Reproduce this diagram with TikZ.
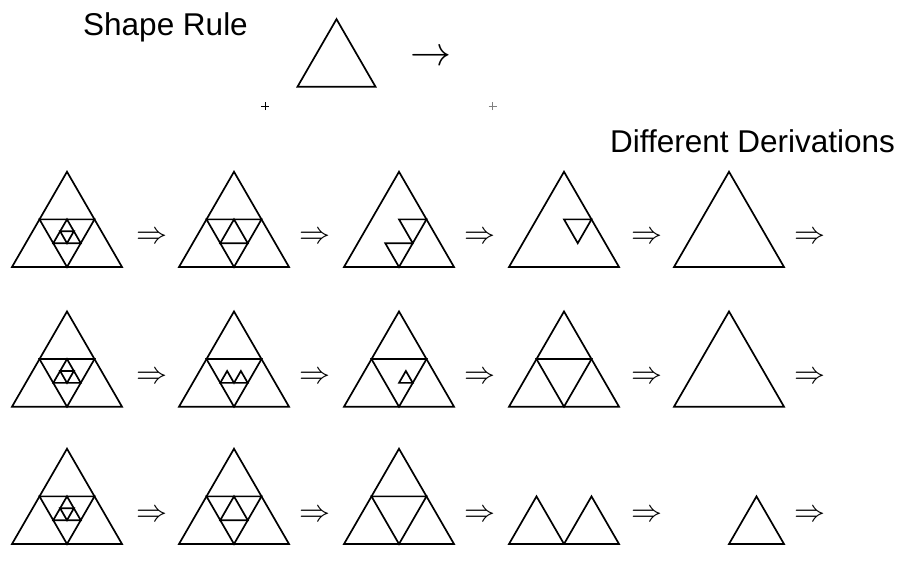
\documentclass[tikz,border=0pt]{standalone}
\usepackage{graphicx}
\usepackage{fontspec}
\setmainfont{Liberation Sans}
\tikzset{
  tri/.style={line width=1.7pt, line join=miter},
  dbl/.style={inner sep=0pt},
  lbl/.style={anchor=base west, font=\fontsize{31.5}{36}\selectfont, inner sep=0pt},
  plusmark/.style={line width=0.9pt},
}
\newcommand{\TOut}{\draw[tri] (0,0)--(1,0)--(0.5,0.866)--cycle;}
\newcommand{\TLa}{\draw[tri] (0.25,0.433)--(0.75,0.433)--(0.5,0)--cycle;}
\newcommand{\TLb}{\draw[tri] (0.5,0.433)--(0.375,0.2165)--(0.625,0.2165)--cycle;}
\newcommand{\TLc}{\draw[tri] (0.4375,0.32475)--(0.5625,0.32475)--(0.5,0.2165)--cycle;}
\newcommand{\Tri}[3]{\begin{scope}[shift={(#1,#2)},x=110pt,y=110pt]#3\end{scope}}
\newcommand{\DblArr}{\resizebox{31pt}{!}{$\Rightarrow$}}
\begin{document}
\begin{tikzpicture}[x=1pt,y=-1pt]
\useasboundingbox (0,0) rectangle (899,560);
% header
\node[lbl] (title) at (83,35) {Shape Rule};
\node[lbl] (deriv) at (610,152) {Different Derivations};
\begin{scope}[shift={(297.5,86.7)},x=78pt,y=78pt]
  \draw[tri] (0,0)--(1,0)--(0.5,0.866)--cycle;
\end{scope}
\node[inner sep=0pt] (rulearrow) at (430.5,58.3) {\resizebox{41pt}{!}{$\rightarrow$}};
\coordinate (p1) at (265,106);
\coordinate (p2) at (492.7,106);
\draw[plusmark] ([xshift=-4pt]p1) -- ([xshift=4pt]p1) ([yshift=-4pt]p1) -- ([yshift=4pt]p1);
\draw[plusmark, gray] ([xshift=-4pt]p2) -- ([xshift=4pt]p2) ([yshift=-4pt]p2) -- ([yshift=4pt]p2);
% row 1
\Tri{12}{267}{\TOut\TLa\TLb\TLc}
\Tri{179}{267}{\TOut\TLa\TLb}
\Tri{344}{267}{\TOut
  \draw[tri] (0.5,0.433)--(0.75,0.433)--(0.625,0.2165)--cycle;
  \draw[tri] (0.375,0.2165)--(0.625,0.2165)--(0.5,0)--cycle;}
\Tri{509}{267}{\TOut
  \draw[tri] (0.5,0.433)--(0.75,0.433)--(0.625,0.2165)--cycle;}
\Tri{674}{267}{\TOut}
% row 2
\Tri{12}{406.7}{\TOut\TLa\TLb\TLc}
\Tri{179}{406.7}{\TOut\TLa
  \draw[tri] (0.375,0.2165)--(0.4375,0.32475)--(0.5,0.2165)--(0.5625,0.32475)--(0.625,0.2165)--cycle;}
\Tri{344}{406.7}{\TOut\TLa
  \draw[tri] (0.5,0.2165)--(0.625,0.2165)--(0.5625,0.32475)--cycle;}
\Tri{509}{406.7}{\TOut\TLa}
\Tri{674}{406.7}{\TOut}
% row 3
\Tri{12}{544}{\TOut\TLa\TLb\TLc}
\Tri{179}{544}{\TOut\TLa\TLb}
\Tri{344}{544}{\TOut\TLa}
\Tri{509}{544}{
  \draw[tri] (0,0)--(0.5,0)--(0.25,0.433)--cycle;
  \draw[tri] (0.5,0)--(1,0)--(0.75,0.433)--cycle;}
\Tri{674}{544}{
  \draw[tri] (0.5,0)--(1,0)--(0.75,0.433)--cycle;}
% derivation arrows
\foreach \x [count=\i] in {151.5,315,479.5,646.5,809.5}{
  \node[dbl] (ra\i) at (\x,238) {\DblArr};
  \node[dbl] (rb\i) at (\x,378) {\DblArr};
  \node[dbl] (rc\i) at (\x,516) {\DblArr};
}
\end{tikzpicture}
\end{document}
